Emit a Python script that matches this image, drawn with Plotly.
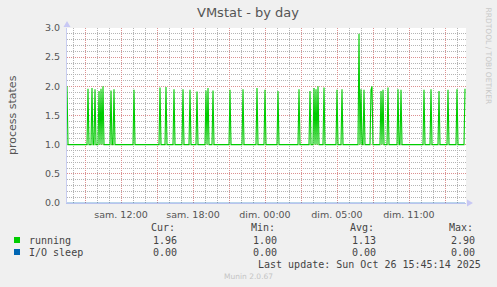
import plotly.graph_objects as go

# ---------------- data ----------------
sample_minutes = 5
n_samples = 399            # 5-minute samples across the graph
baseline_running = 1.0
spike_index = [0, 21, 25, 28, 32, 34, 36, 44, 47, 67, 93, 99, 107, 116, 123, 130,
               139, 141, 146, 163, 176, 190, 198, 211, 232, 243, 247, 249, 251,
               257, 270, 275, 292, 294, 297, 304, 305, 314, 316, 321, 331, 334,
               357, 364, 372, 381, 390, 398]
spike_value = [2.00, 1.96, 1.97, 1.95, 1.92, 1.96, 2.00, 1.93, 1.95, 1.94, 1.98, 1.99,
               1.95, 1.95, 1.94, 1.91, 1.93, 1.97, 1.93, 1.94, 1.95, 1.97, 1.94,
               1.92, 1.95, 1.92, 1.97, 1.95, 2.00, 1.98, 1.94, 1.95, 2.90, 1.95,
               1.94, 1.94, 2.00, 1.92, 1.94, 1.98, 1.95, 1.94, 1.94, 1.95, 1.92,
               1.94, 1.95, 1.96]
io_sleep_value = 0.0

x_ticks = [1.5, 4.5, 7.5, 10.5, 13.5, 16.5, 19.5, 22.5, 25.5, 28.5, 31.5]
x_labels = ["", "sam. 12:00", "", "sam. 18:00", "", "dim. 00:00", "", "dim. 05:00",
            "", "dim. 11:00", ""]

legend_names = ["running", "I/O sleep"]
legend_colors = ["#00CC00", "#0066B3"]
stat_headers = ["Cur:", "Min:", "Avg:", "Max:"]
stats = [["1.96", "1.00", "1.13", "2.90"],
         ["0.00", "0.00", "0.00", "0.00"]]
last_update = "Last update: Sun Oct 26 15:45:14 2025"

# ---------------- build series ----------------
hours = [i * sample_minutes / 60 for i in range(n_samples)]
running = [baseline_running] * n_samples
for i, v in zip(spike_index, spike_value):
    running[i] = v
io_sleep = [io_sleep_value] * n_samples

W, H = 497, 287
L, R, T, B = 67, 466, 28, 203

def px(x):
    return (x - L) / (R - L)

def py(y):
    return (B - y) / (B - T)

fig = go.Figure()
fig.add_trace(go.Scatter(x=hours, y=io_sleep, mode="lines",
                         line=dict(color="rgba(0,102,179,0.55)", width=1.2),
                         hoverinfo="skip", showlegend=False, cliponaxis=False))
fig.add_trace(go.Scatter(x=hours, y=running, mode="lines",
                         line=dict(color=legend_colors[0], width=1.1),
                         hoverinfo="skip", showlegend=False))

grid_minor = "#b4b4b4"
grid_major = "#dc9090"
dash = "1px,1px"
font_main = "DejaVu Sans"
font_mono = "DejaVu Sans Mono"

fig.update_xaxes(range=[0, (n_samples) * sample_minutes / 60],
                 tickmode="array", tickvals=x_ticks, ticktext=x_labels,
                 showgrid=True, gridcolor=grid_major, griddash=dash, gridwidth=1,
                 ticks="outside", ticklen=3, tickcolor="rgba(0,0,0,0)",
                 tickfont=dict(family=font_main, size=9.5, color="#555"),
                 showline=True, linecolor="#b9c3ee", linewidth=1,
                 zeroline=False,
                 minor=dict(tickmode="linear", tick0=0.5, dtick=1, showgrid=True,
                            gridcolor=grid_minor, griddash=dash, gridwidth=1, ticks=""))
fig.update_yaxes(range=[0, 3.0], tickmode="linear", tick0=0, dtick=0.5,
                 tickformat=".1f",
                 showgrid=True, gridcolor=grid_major, griddash=dash, gridwidth=1,
                 ticks="outside", ticklen=4, tickcolor="rgba(0,0,0,0)",
                 tickfont=dict(family=font_main, size=9.5, color="#555"),
                 showline=True, linecolor="#c8cdf0", linewidth=1,
                 zeroline=False,
                 minor=dict(tickmode="linear", tick0=0, dtick=0.1, showgrid=True,
                            gridcolor=grid_minor, griddash=dash, gridwidth=1, ticks=""))

ann = []
ann.append(dict(text="VMstat - by day", x=px(248), y=py(12), xref="paper", yref="paper",
                showarrow=False, xanchor="center", yanchor="middle",
                font=dict(family=font_main, size=13, color="#555")))
ann.append(dict(text="process states", x=px(12), y=py(115), xref="paper", yref="paper",
                showarrow=False, textangle=-90, xanchor="center", yanchor="middle",
                font=dict(family=font_main, size=11, color="#555")))
ann.append(dict(text="RRDTOOL / TOBI OETIKER", x=px(488), y=py(5), xref="paper", yref="paper",
                showarrow=False, textangle=90, xanchor="center", yanchor="top",
                font=dict(family=font_main, size=7.5, color="#c8c8c8")))
header_x = [149, 249, 348, 447]
value_right = [178.5, 278.5, 377.5, 476.5]
for hx, h in zip(header_x, stat_headers):
    ann.append(dict(text=h, x=px(hx), y=py(227.5), xref="paper", yref="paper",
                    showarrow=False, xanchor="left", yanchor="middle",
                    font=dict(family=font_mono, size=10, color="#444")))
row_y = [240, 252]
for r, (name, col) in enumerate(zip(legend_names, legend_colors)):
    ann.append(dict(text=name, x=px(26.5), y=py(row_y[r]), xref="paper", yref="paper",
                    showarrow=False, xanchor="left", yanchor="middle",
                    font=dict(family=font_mono, size=10, color="#444")))
    for vx, v in zip(value_right, stats[r]):
        ann.append(dict(text=v, x=px(vx), y=py(row_y[r]), xref="paper", yref="paper",
                        showarrow=False, xanchor="right", yanchor="middle",
                        font=dict(family=font_mono, size=10, color="#444")))
ann.append(dict(text=last_update, x=px(482.5), y=py(264), xref="paper", yref="paper",
                showarrow=False, xanchor="right", yanchor="middle",
                font=dict(family=font_mono, size=10, color="#444")))
ann.append(dict(text="Munin 2.0.67", x=px(248), y=py(276), xref="paper", yref="paper",
                showarrow=False, xanchor="center", yanchor="middle",
                font=dict(family=font_main, size=7.5, color="#c4c4c4")))

shapes = []
for r, col in enumerate(legend_colors):
    shapes.append(dict(type="rect", xref="paper", yref="paper",
                       x0=px(14), x1=px(20), y0=py(row_y[r] - 3), y1=py(row_y[r] + 3),
                       fillcolor=col, line=dict(width=0)))
# axis arrows
shapes.append(dict(type="path", xref="paper", yref="paper",
                   path=f"M {px(467)} {py(199.5)} L {px(473)} {py(203)} L {px(467)} {py(206.5)} Z",
                   fillcolor="#c8c8f4", line=dict(width=0)))
shapes.append(dict(type="path", xref="paper", yref="paper",
                   path=f"M {px(63.5)} {py(27)} L {px(67)} {py(21)} L {px(70.5)} {py(27)} Z",
                   fillcolor="#c8c8f4", line=dict(width=0)))

fig.update_layout(width=W, height=H, margin=dict(l=L, r=W - R, t=T, b=H - B, pad=0),
                  paper_bgcolor="#F0F0F0", plot_bgcolor="#FFFFFF",
                  showlegend=False, annotations=ann, shapes=shapes)

fig.write_html("out.html")
